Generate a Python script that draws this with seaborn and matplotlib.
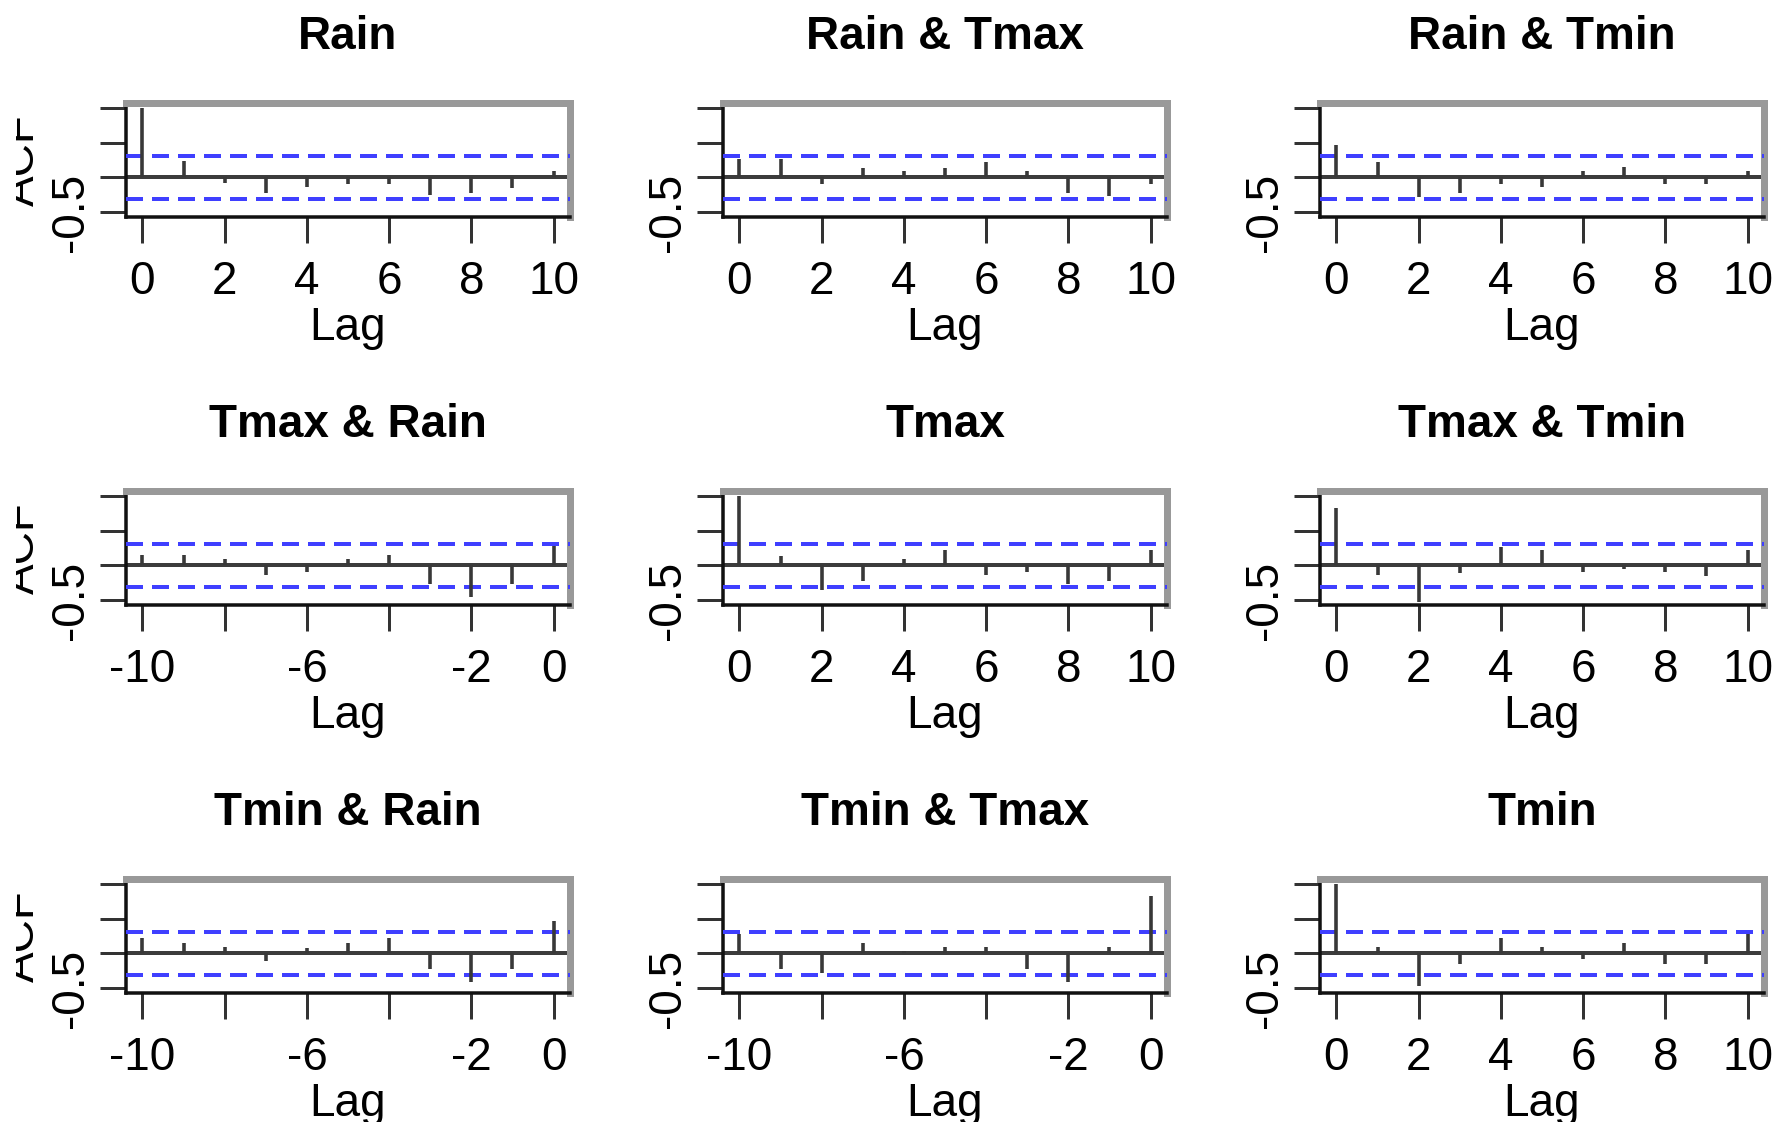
import matplotlib
matplotlib.use("Agg")
import matplotlib.pyplot as plt
import seaborn as sns
import pandas as pd
from matplotlib.transforms import Bbox, TransformedBbox

# ---------------- data ----------------
titles = ["Rain", "Rain & Tmax", "Rain & Tmin",
          "Tmax & Rain", "Tmax", "Tmax & Tmin",
          "Tmin & Rain", "Tmin & Tmax", "Tmin"]

lags_pos = [0, 1, 2, 3, 4, 5, 6, 7, 8, 9, 10]
lags_neg = [-10, -9, -8, -7, -6, -5, -4, -3, -2, -1, 0]

acf_rain = [1.0, 0.23, -0.08, -0.22, -0.14, -0.09, -0.10, -0.25, -0.22, -0.15, 0.09]
acf_rain_tmax = [0.27, 0.27, -0.10, 0.14, 0.09, 0.14, 0.22, 0.09, -0.22, -0.27, -0.09]
acf_rain_tmin = [0.46, 0.22, -0.28, -0.22, -0.09, -0.14, 0.09, 0.15, -0.09, -0.09, 0.09]
acf_tmax_rain = [0.15, 0.15, 0.09, -0.14, -0.09, 0.09, 0.15, -0.27, -0.46, -0.27, 0.28]
acf_tmax = [1.0, 0.14, -0.35, -0.23, 0.09, 0.22, -0.14, -0.09, -0.27, -0.22, 0.22]
acf_tmax_tmin = [0.83, -0.14, -0.53, -0.11, 0.27, 0.22, -0.09, -0.05, -0.09, -0.15, 0.22]
acf_tmin_rain = [0.22, 0.15, 0.09, -0.11, 0.08, 0.15, 0.22, -0.22, -0.41, -0.22, 0.46]
acf_tmin_tmax = [0.28, -0.22, -0.28, 0.15, 0.03, 0.09, 0.09, -0.22, -0.41, 0.09, 0.83]
acf_tmin = [1.0, 0.09, -0.47, -0.15, 0.22, 0.09, -0.08, 0.15, -0.15, -0.15, 0.28]

ci_level = 0.31

pos_ticks = [0, 2, 4, 6, 8, 10]
pos_labels = ["0", "2", "4", "6", "8", "10"]
neg_ticks = [-10, -8, -6, -4, -2, 0]
neg_labels = ["-10", "", "-6", "", "-2", "0"]
y_ticks = [-0.5, 0.0, 0.5, 1.0]
y_labels = ["-0.5", "", "", ""]

panel_values = [acf_rain, acf_rain_tmax, acf_rain_tmin,
                acf_tmax_rain, acf_tmax, acf_tmax_tmin,
                acf_tmin_rain, acf_tmin_tmax, acf_tmin]
panel_negative = [False, False, False,
                  True, False, False,
                  True, True, False]

rows = []
for t, vals, neg in zip(titles, panel_values, panel_negative):
    lg = lags_neg if neg else lags_pos
    for l, v in zip(lg, vals):
        rows.append({"panel": t, "lag": l, "acf": v})
df = pd.DataFrame(rows)

# ---------------- style ----------------
sns.set_theme(style="white")
plt.rcParams['font.family'] = ['Liberation Sans', 'DejaVu Sans']
plt.rcParams['lines.scale_dashes'] = False

W, H = 1776, 1122
fig = plt.figure(figsize=(W / 100, H / 100), dpi=100)

col_left = [126, 723, 1320]
row_top = [103, 491, 879]
bw, bh = 444, 114
FS = 33
px = 0.72  # points per pixel at dpi 100

for i, t in enumerate(titles):
    r, c = divmod(i, 3)
    left, top = col_left[c], row_top[r]
    ax = fig.add_axes([left / W, 1 - (top + bh) / H, bw / W, bh / H])
    d = df[df["panel"] == t]
    neg = panel_negative[i]

    ax.axhline(0, color="#3c3c3c", lw=4 * px, zorder=2)
    for s in (ci_level, -ci_level):
        ax.axhline(s, color="#3f3fff", lw=4 * px, dashes=(17 * px, 9 * px), zorder=3)
    ax.vlines(d["lag"], 0, d["acf"], color="#383838", lw=3.6 * px, zorder=4)

    if neg:
        ax.set_xlim(-10.4, 0.4)
        ax.set_xticks(neg_ticks)
        ax.set_xticklabels(neg_labels)
    else:
        ax.set_xlim(-0.4, 10.4)
        ax.set_xticks(pos_ticks)
        ax.set_xticklabels(pos_labels)
    ax.set_ylim(-0.57, 1.07)
    ax.set_yticks(y_ticks)
    ax.set_yticklabels(y_labels, rotation=90, va="center")

    ax.tick_params(axis="both", which="major", direction="out",
                   bottom=True, left=True, length=26 * px, width=3 * px,
                   color="#333333", labelsize=FS, labelcolor="black")
    ax.tick_params(axis="x", pad=17 * px)
    ax.tick_params(axis="y", pad=7 * px)

    for side in ("left", "bottom"):
        ax.spines[side].set_color("#111111")
        ax.spines[side].set_linewidth(3.5 * px)
    for side in ("top", "right"):
        ax.spines[side].set_color("#999999")
        ax.spines[side].set_linewidth(7 * px)
    ax.set_facecolor("white")

    cx = (left + bw / 2) / W
    fig.text(cx, 1 - (49 + 388 * r) / H, t, ha="center", va="baseline",
             fontsize=FS, fontweight="bold", color="black")
    fig.text(cx, 1 - (340 + 388 * r) / H, "Lag", ha="center", va="baseline",
             fontsize=FS, color="black")

    if c == 0:
        txt = fig.text(44 / W, 1 - (top + bh / 2) / H, "ACF", rotation=90,
                       ha="right", va="center", fontsize=FS, color="black")
        txt.set_clip_box(TransformedBbox(Bbox([[16 / W, 0], [1, 1]]), fig.transFigure))
        txt.set_clip_on(True)

fig.savefig("out.png", dpi=100, facecolor="white")
